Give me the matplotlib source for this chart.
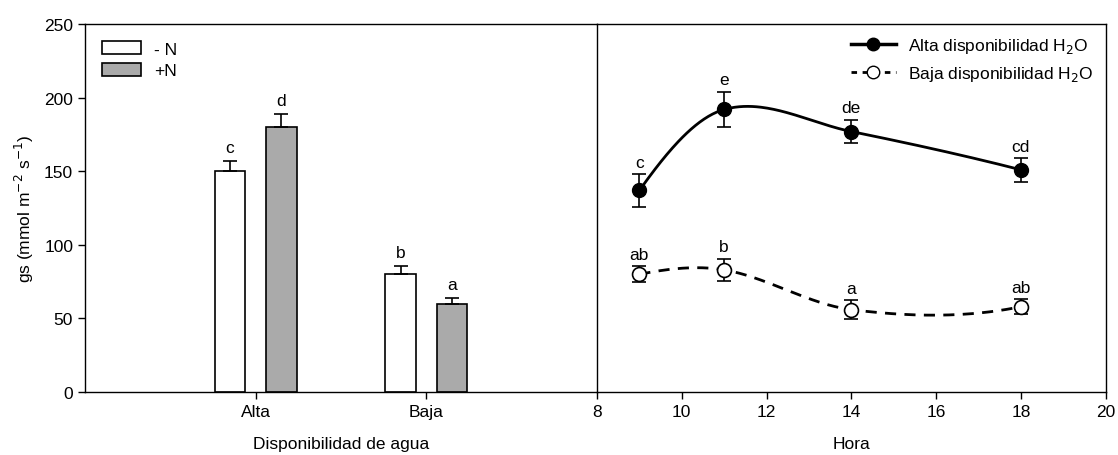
import numpy as np
import matplotlib
matplotlib.use("Agg")
import matplotlib.pyplot as plt
from matplotlib.lines import Line2D

plt.rcParams['font.family'] = ['Liberation Sans', 'DejaVu Sans']
plt.rcParams['font.size'] = 12.5

# bar panel data
categories = ["Alta", "Baja"]
gs_sin_n = [150, 80]
gs_sin_n_err = [7, 5.5]
gs_con_n = [180, 60]
gs_con_n_err = [9, 4]
letras_sin_n = ["c", "b"]
letras_con_n = ["d", "a"]

# time course data
hora = [9, 11, 14, 18]
gs_alta = [137, 192, 177, 151]
gs_alta_err = [11, 12, 8, 8]
letras_alta = ["c", "e", "de", "cd"]
gs_baja = [80, 83, 56, 58]
gs_baja_err = [5.5, 7.5, 6.5, 5]
letras_baja = ["ab", "b", "a", "ab"]


def smooth_curve(x, y, n=60):
    # cubic Hermite: Catmull-Rom slopes inside, 3-point slopes at the ends
    x = np.asarray(x, float)
    y = np.asarray(y, float)
    k = len(x)
    m = np.zeros(k)
    for i in range(1, k - 1):
        m[i] = (y[i + 1] - y[i - 1]) / (x[i + 1] - x[i - 1])
    for i, (a, b, c) in ((0, (0, 1, 2)), (k - 1, (k - 3, k - 2, k - 1))):
        d1 = (y[b] - y[a]) / (x[b] - x[a])
        d2 = (y[c] - y[b]) / (x[c] - x[b])
        f2 = (d2 - d1) / (x[c] - x[a])
        m[i] = d1 + f2 * (x[i] - x[a]) + f2 * (x[i] - x[b])
    xs_all, ys_all = [], []
    for i in range(k - 1):
        h = x[i + 1] - x[i]
        t = np.linspace(0, 1, n)
        h00 = 2 * t**3 - 3 * t**2 + 1
        h10 = t**3 - 2 * t**2 + t
        h01 = -2 * t**3 + 3 * t**2
        h11 = t**3 - t**2
        xs_all.append(x[i] + t * h)
        ys_all.append(h00 * y[i] + h10 * h * m[i] + h01 * y[i + 1] + h11 * h * m[i + 1])
    return np.concatenate(xs_all), np.concatenate(ys_all)


fig = plt.figure(figsize=(11.18, 4.56), dpi=100)
ax1 = fig.add_axes([0.076, 0.138, 0.458, 0.807])
ax2 = fig.add_axes([0.534, 0.138, 0.455, 0.807])

# --- bars ---
pos = np.arange(1, len(categories) + 1)
w = 0.18
ax1.bar(pos - 0.15, gs_sin_n, w, color="white", edgecolor="black", linewidth=1.2,
        yerr=[np.zeros(2), gs_sin_n_err], capsize=5, error_kw=dict(elinewidth=1.2, capthick=1.2),
        label="- N", zorder=2)
ax1.bar(pos + 0.15, gs_con_n, w, color="#aaaaaa", edgecolor="black", linewidth=1.2,
        yerr=[np.zeros(2), gs_con_n_err], capsize=5, error_kw=dict(elinewidth=1.2, capthick=1.2),
        label="+N", zorder=2)
for i in range(len(categories)):
    ax1.text(pos[i] - 0.15, gs_sin_n[i] + gs_sin_n_err[i] + 4, letras_sin_n[i],
             ha="center", va="bottom")
    ax1.text(pos[i] + 0.15, gs_con_n[i] + gs_con_n_err[i] + 4, letras_con_n[i],
             ha="center", va="bottom")

ax1.set_xlim(0, 3)
ax1.set_ylim(0, 250)
ax1.set_xticks(pos)
ax1.set_xticklabels(categories)
ax1.set_yticks(range(0, 251, 50))
ax1.spines["right"].set_visible(False)
ax1.set_ylabel("gs (mmol m$^{-2}$ s$^{-1}$)", labelpad=6)
ax1.set_xlabel("Disponibilidad de agua", labelpad=12)
ax1.legend(loc="upper left", frameon=False, handlelength=2.2,
           handleheight=0.75, borderaxespad=0.6, labelspacing=0.35, handletextpad=0.8)

# --- time course ---
xs, ys = smooth_curve(hora, gs_alta)
ax2.plot(xs, ys, color="black", lw=2, zorder=2)
ax2.errorbar(hora, gs_alta, yerr=gs_alta_err, fmt="o", color="black", ms=10,
             capsize=5, elinewidth=1.2, capthick=1.2, zorder=3)
xs, ys = smooth_curve(hora, gs_baja)
ax2.plot(xs, ys, color="black", lw=2, ls=(0, (4, 3)), zorder=2)
ax2.errorbar(hora, gs_baja, yerr=gs_baja_err, fmt="o", color="black", mfc="white",
             mec="black", mew=1.2, ms=10, capsize=5, elinewidth=1.2, capthick=1.2, zorder=3)
for i in range(len(hora)):
    ax2.text(hora[i], gs_alta[i] + gs_alta_err[i] + 3, letras_alta[i],
             ha="center", va="bottom")
    ax2.text(hora[i], gs_baja[i] + gs_baja_err[i] + 3, letras_baja[i],
             ha="center", va="bottom")

ax2.set_xlim(8, 20)
ax2.set_ylim(0, 250)
ax2.set_xticks(range(8, 21, 2))
ax2.set_yticks([])
ax2.set_xlabel("Hora", labelpad=12)
handles = [Line2D([], [], color="black", lw=2.5, marker="o", ms=9),
           Line2D([], [], color="black", lw=2, ls=(0, (2, 2)), marker="o", ms=9,
                  mfc="white", mec="black")]
ax2.legend(handles, ["Alta disponibilidad H$_2$O", "Baja disponibilidad H$_2$O"],
           loc="upper right", frameon=False, handlelength=2.6, handletextpad=0.7,
           borderaxespad=0.3, labelspacing=0.5)

for ax in (ax1, ax2):
    for s in ax.spines.values():
        s.set_linewidth(1.0)
    ax.tick_params(direction="out", length=5, width=1, labelsize=12.5)

fig.savefig("out.png", dpi=100)
